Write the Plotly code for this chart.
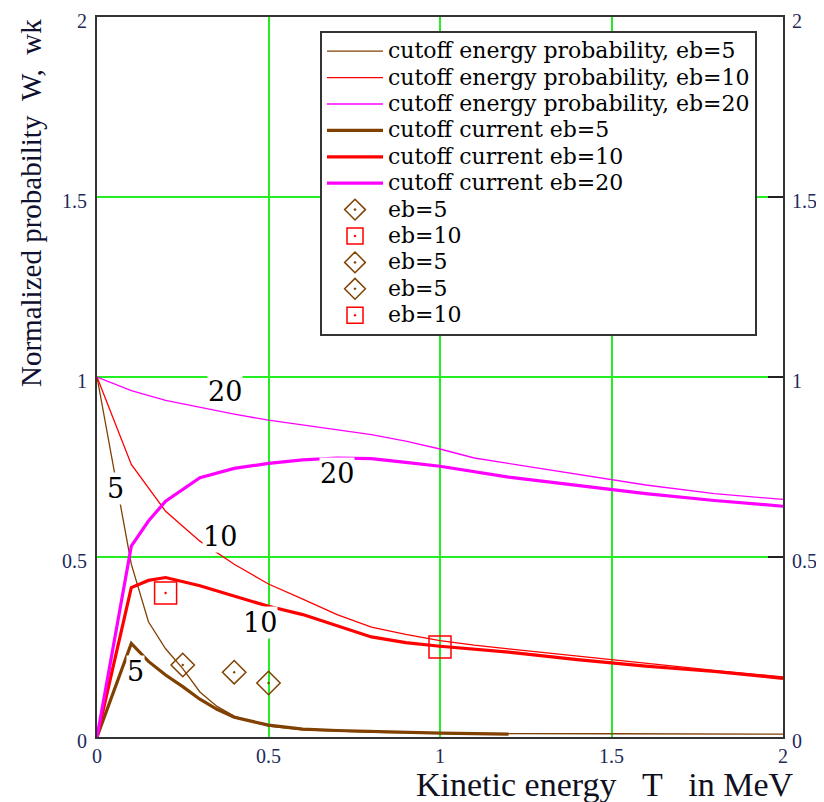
import plotly.graph_objects as go

# ---- data ----
T_prob5 = [0, 0.05, 0.1, 0.15, 0.2, 0.25, 0.3, 0.35, 0.4, 0.5, 0.6, 0.8, 1.0, 1.5, 2.0]
W_prob5 = [1.0, 0.74, 0.48, 0.32, 0.245, 0.19, 0.125, 0.085, 0.058, 0.03, 0.02, 0.013, 0.01, 0.009, 0.008]

T_prob10 = [0, 0.1, 0.2, 0.3, 0.4, 0.5, 0.6, 0.7, 0.8, 0.9, 1.0, 1.1, 1.2, 1.4, 1.6, 1.8, 2.0]
W_prob10 = [1.0, 0.757, 0.627, 0.544, 0.48, 0.425, 0.383, 0.34, 0.305, 0.285, 0.268, 0.255, 0.245, 0.225, 0.203, 0.185, 0.167]

T_prob20 = [0, 0.1, 0.2, 0.3, 0.4, 0.5, 0.6, 0.7, 0.8, 0.9, 1.0, 1.1, 1.2, 1.4, 1.6, 1.8, 2.0]
W_prob20 = [1.0, 0.962, 0.935, 0.915, 0.897, 0.88, 0.866, 0.852, 0.84, 0.822, 0.80, 0.775, 0.76, 0.732, 0.70, 0.676, 0.66]

T_cur5 = [0, 0.1, 0.15, 0.2, 0.25, 0.3, 0.35, 0.4, 0.5, 0.6, 0.7, 0.8, 1.0, 1.2]
W_cur5 = [0, 0.26, 0.21, 0.172, 0.14, 0.105, 0.077, 0.055, 0.033, 0.022, 0.018, 0.015, 0.011, 0.008]

T_cur10 = [0, 0.1, 0.15, 0.2, 0.3, 0.4, 0.5, 0.6, 0.7, 0.8, 0.9, 1.0, 1.2, 1.4, 1.6, 1.8, 2.0]
W_cur10 = [0, 0.415, 0.435, 0.443, 0.42, 0.392, 0.363, 0.34, 0.31, 0.278, 0.262, 0.252, 0.236, 0.215, 0.197, 0.182, 0.163]

T_cur20 = [0, 0.1, 0.15, 0.2, 0.3, 0.4, 0.5, 0.6, 0.7, 0.8, 0.9, 1.0, 1.2, 1.4, 1.6, 1.8, 2.0]
W_cur20 = [0, 0.53, 0.6, 0.655, 0.72, 0.746, 0.76, 0.77, 0.775, 0.773, 0.763, 0.752, 0.722, 0.698, 0.676, 0.657, 0.641]

# experimental points (legend order)
pt_names = ["eb=5", "eb=10", "eb=5", "eb=5", "eb=10"]
pt_T = [0.25, 0.2, 0.4, 0.5, 1.0]
pt_W = [0.2, 0.4, 0.18, 0.15, 0.25]
pt_kind = ["d", "s", "d", "d", "s"]

# curve labels
lab_text = ["20", "20", "10", "10", "5", "5"]
lab_T = [0.373, 0.70, 0.36, 0.475, 0.055, 0.113]
lab_W = [0.961, 0.733, 0.556, 0.319, 0.689, 0.181]

tick_vals = [0, 0.5, 1, 1.5, 2]
tick_text = ["0", "0.5", "1", "1.5", "2"]

BROWN = "#804000"
RED = "#ff0000"
MAG = "#ff00ff"
SERIF = "Liberation Serif"
DSERIF = "DejaVu Serif"
TICKC = "#1e2a5a"

# plot-area geometry in page pixels (page has an 8px body margin)
PL, PR, PT, PB = 97, 783, 17, 737
PW, PH = PR - PL, PB - PT
OFF = 8
FIG_W, FIG_H = 824 - OFF, 802 - OFF

def px(xp):
    return (xp - PL) / PW

def py(yp):
    return (PB - yp) / PH

def big(s):
    return "<span style='font-family:DejaVu Serif;font-size:22px'>" + s + "</span>"

fig = go.Figure()

thin = [(T_prob5, W_prob5, BROWN, "cutoff energy probability, eb=5"),
        (T_prob10, W_prob10, RED, "cutoff energy probability, eb=10"),
        (T_prob20, W_prob20, MAG, "cutoff energy probability, eb=20")]
for t, w, c, n in thin:
    fig.add_trace(go.Scatter(x=t, y=w, mode="lines", name=big(n),
                             line=dict(color=c, width=1.3)))

thick = [(T_cur5, W_cur5, BROWN, "cutoff current eb=5"),
         (T_cur10, W_cur10, RED, "cutoff current eb=10"),
         (T_cur20, W_cur20, MAG, "cutoff current eb=20")]
for t, w, c, n in thick:
    fig.add_trace(go.Scatter(x=t, y=w, mode="lines", name=big(n),
                             line=dict(color=c, width=3.2)))

for n, t, w, k in zip(pt_names, pt_T, pt_W, pt_kind):
    if k == "d":
        mk = dict(symbol="diamond-open-dot", size=18, color=BROWN,
                  line=dict(color=BROWN, width=1.5))
    else:
        mk = dict(symbol="square-open-dot", size=22, color=RED,
                  line=dict(color=RED, width=1.5))
    fig.add_trace(go.Scatter(x=[t], y=[w], mode="markers", name=big(n), marker=mk))

# dummy trace for right axis
fig.add_trace(go.Scatter(x=[0, 2], y=[0, 2], mode="lines", yaxis="y2",
                         line=dict(width=0, color="rgba(0,0,0,0)"),
                         showlegend=False, hoverinfo="skip"))

for txt, t, w in zip(lab_text, lab_T, lab_W):
    fig.add_annotation(x=t, y=w, text=txt, showarrow=False,
                       font=dict(family=DSERIF, size=27, color="#000000"),
                       bgcolor="white", borderpad=0)

G = "&nbsp;" * 3
fig.add_annotation(xref="paper", yref="paper", x=px(605), y=py(784),
                   text="Kinetic energy" + G + "T" + G + "in MeV", showarrow=False,
                   font=dict(family=SERIF, size=34, color="#101020"),
                   xanchor="center", yanchor="middle")
fig.add_annotation(xref="paper", yref="paper", x=px(31), y=py(203),
                   text="Normalized probability &nbsp;W, &nbsp;wk", showarrow=False,
                   textangle=-90,
                   font=dict(family=SERIF, size=29, color="#101030"),
                   xanchor="center", yanchor="middle")

axis_common = dict(range=[0, 2], tickvals=tick_vals, ticktext=tick_text,
                   zeroline=False, automargin=False,
                   tickfont=dict(family=SERIF, size=20, color=TICKC))

fig.update_layout(
    width=FIG_W, height=FIG_H,
    margin=dict(l=PL - OFF, r=FIG_W - (PR - OFF), t=PT - OFF, b=FIG_H - (PB - OFF), pad=0),
    paper_bgcolor="white", plot_bgcolor="white",
    showlegend=True,
    legend=dict(x=px(320), y=py(31), xanchor="left", yanchor="top",
                bgcolor="white", bordercolor="#333333", borderwidth=2,
                font=dict(family=DSERIF, size=18, color="#000000"),
                tracegroupgap=0, itemwidth=56),
    xaxis=dict(**axis_common, showgrid=True, gridcolor="#22ee22", gridwidth=2,
               showline=True, linecolor="#333333", linewidth=2, mirror=True, ticks=""),
    yaxis=dict(**axis_common, showgrid=True, gridcolor="#22ee22", gridwidth=2,
               showline=True, linecolor="#333333", linewidth=2, mirror=True, ticks="",
               ticklabelstandoff=4, ticklabelshift=4, ticklabeloverflow="allow"),
    yaxis2=dict(**axis_common, overlaying="y", side="right", anchor="x",
                showgrid=False, ticks="inside", ticklen=15,
                tickcolor="#222222", tickwidth=1.5,
                ticklabelstandoff=8, ticklabelshift=4, ticklabeloverflow="allow"),
)

fig.write_html("out.html")
